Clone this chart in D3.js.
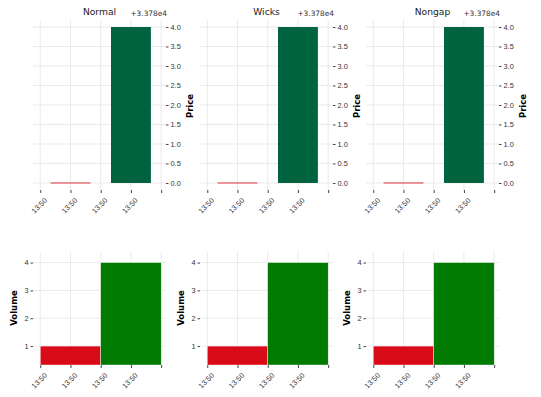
<!DOCTYPE html>
<html>
<head>
<meta charset="utf-8">
<script src="https://cdn.jsdelivr.net/npm/d3@7"></script>
<style>
  body { margin: 0; background: #fff; }
  svg { font-family: "DejaVu Sans", sans-serif; }
  .tick text { fill: #333; }
  .tick line { stroke: #444; }
</style>
</head>
<body>
<div id="chart"></div>
<script>
// chart data
const panelTitles = ['Normal', 'Wicks', 'Nongap'];
const opens = [33780, 33780];
const closes = [33780, 33784];
const highs = [33780, 33784];
const lows = [33780, 33780];
const volumes = [1, 4];
const priceOffset = 33780;
const priceTicks = [0, 0.5, 1, 1.5, 2, 2.5, 3, 3.5, 4];
const volumeTicks = [1, 2, 3, 4];
const xTickValues = [-0.5, 0, 0.5, 1, 1.5];
const xTickLabels = ['13:50', '13:50', '13:50', '13:50', ''];

const W = 541, H = 397;
const panelLeft = [33, 200, 366];
const panelWidth = 133;
const price = { top: 20, bottom: 190 };
const vol = { top: 252, bottom: 365 };
const upCandle = '#006340', downCandle = '#e0333a';
const upVol = '#007a00', downVol = '#d90b18';
const gridColor = '#e4e4e4';
const tickFont = 7.4;

const svg = d3.select('#chart').append('svg')
  .attr('width', W).attr('height', H);

const yPrice = d3.scaleLinear()
  .domain([priceOffset - 0.18, priceOffset + 4.18])
  .range([price.bottom, price.top]);
const yVol = d3.scaleLinear().domain([0.32, 4.38]).range([vol.bottom, vol.top]);

function xAxis(g, x, y) {
  g.attr('transform', 'translate(0,' + y + ')')
    .call(d3.axisBottom(x).tickValues(xTickValues)
      .tickSize(3).tickFormat((d, i) => xTickLabels[i]))
    .call(s => s.select('.domain').remove())
    .selectAll('text')
    .attr('font-size', tickFont)
    .attr('text-anchor', 'end')
    .attr('dy', '0.3em')
    .attr('transform', 'translate(1,5) rotate(-45)');
}

panelTitles.forEach((title, p) => {
  const x0 = panelLeft[p];
  const x = d3.scaleLinear().domain([-0.62, 1.58]).range([x0, x0 + panelWidth]);

  // ---------- price panel ----------
  const top = svg.append('g');
  top.selectAll('.hgrid').data(priceTicks).join('line')
    .attr('x1', x0).attr('x2', x0 + panelWidth)
    .attr('y1', d => yPrice(d + priceOffset)).attr('y2', d => yPrice(d + priceOffset))
    .attr('stroke', gridColor).attr('stroke-width', 0.8);
  top.selectAll('.vgrid').data(xTickValues).join('line')
    .attr('x1', d => x(d)).attr('x2', d => x(d))
    .attr('y1', price.top).attr('y2', price.bottom)
    .attr('stroke', gridColor).attr('stroke-width', 0.8);

  const cw = 0.66;
  opens.forEach((o, i) => {
    const c = closes[i];
    const up = c > o;
    const yT = yPrice(Math.max(o, c)), yB = yPrice(Math.min(o, c));
    top.append('line')
      .attr('x1', x(i)).attr('x2', x(i))
      .attr('y1', yPrice(highs[i])).attr('y2', yPrice(lows[i]))
      .attr('stroke', up ? upCandle : downCandle).attr('stroke-width', 0.8);
    top.append('rect')
      .attr('x', x(i - cw / 2)).attr('width', x(cw) - x(0))
      .attr('y', yT - (yB - yT < 1 ? 0.5 : 0))
      .attr('height', Math.max(yB - yT, 1))
      .attr('fill', up ? upCandle : downCandle);
  });

  top.append('g')
    .attr('transform', 'translate(' + (x0 + panelWidth) + ',0)')
    .call(d3.axisRight(yPrice).tickValues(priceTicks.map(d => d + priceOffset))
      .tickSize(2.5).tickPadding(2).tickFormat(d => (d - priceOffset).toFixed(1)))
    .call(s => s.select('.domain').remove())
    .selectAll('text').attr('font-size', tickFont);

  top.append('g').call(xAxis, x, price.bottom);

  top.append('text')
    .attr('x', x0 + panelWidth / 2).attr('y', 15)
    .attr('text-anchor', 'middle').attr('font-size', 9.2).attr('fill', '#222')
    .text(title);
  top.append('text')
    .attr('x', x0 + panelWidth + 1).attr('y', 16)
    .attr('text-anchor', 'end').attr('font-size', tickFont).attr('fill', '#333')
    .text('+3.378e4');
  top.append('text')
    .attr('transform', 'translate(' + (x0 + panelWidth + 27) + ',' + 106 + ') rotate(-90)')
    .attr('text-anchor', 'middle').attr('font-size', 8.5).attr('font-weight', 'bold')
    .text('Price');

  // ---------- volume panel ----------
  const bot = svg.append('g');
  bot.selectAll('.hgrid').data(volumeTicks).join('line')
    .attr('x1', x0).attr('x2', x0 + panelWidth)
    .attr('y1', d => yVol(d)).attr('y2', d => yVol(d))
    .attr('stroke', gridColor).attr('stroke-width', 0.8);
  bot.selectAll('.vgrid').data(xTickValues).join('line')
    .attr('x1', d => x(d)).attr('x2', d => x(d))
    .attr('y1', vol.top).attr('y2', vol.bottom)
    .attr('stroke', gridColor).attr('stroke-width', 0.8);

  bot.selectAll('.bar').data(volumes).join('rect')
    .attr('x', (d, i) => x(i - 0.5))
    .attr('width', x(1) - x(0))
    .attr('y', d => yVol(d))
    .attr('height', d => vol.bottom - yVol(d))
    .attr('fill', (d, i) => closes[i] > opens[i] ? upVol : downVol)
    .attr('stroke', '#fff').attr('stroke-width', 0.4);

  bot.append('g')
    .attr('transform', 'translate(' + x0 + ',0)')
    .call(d3.axisLeft(yVol).tickValues(volumeTicks).tickSize(2.5).tickPadding(2)
      .tickFormat(d3.format('d')))
    .call(s => s.select('.domain').remove())
    .selectAll('text').attr('font-size', tickFont);

  bot.append('g').call(xAxis, x, vol.bottom);

  bot.append('text')
    .attr('transform', 'translate(' + (x0 - 16) + ',' + 308 + ') rotate(-90)')
    .attr('text-anchor', 'middle').attr('font-size', 8.5).attr('font-weight', 'bold')
    .text('Volume');
});
</script>
</body>
</html>
